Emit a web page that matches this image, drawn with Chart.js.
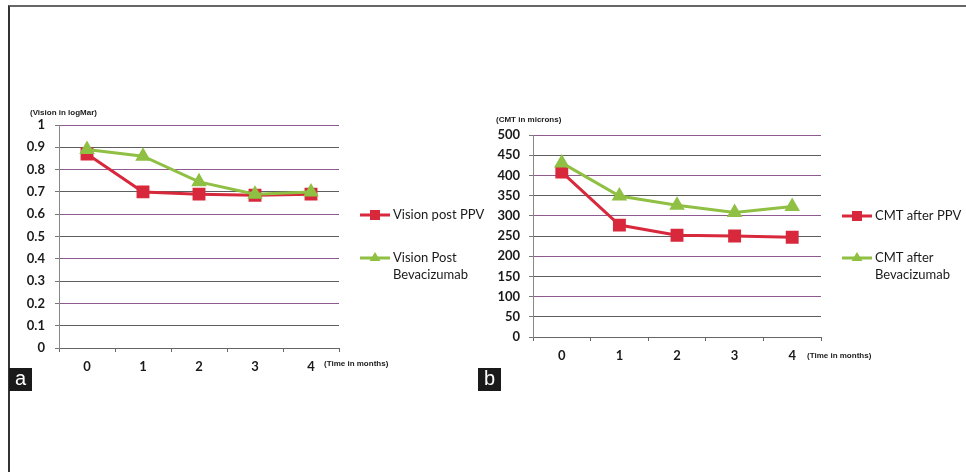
<!DOCTYPE html>
<html>
<head>
<meta charset="utf-8">
<script src="https://cdn.jsdelivr.net/npm/chart.js@4/dist/chart.umd.min.js"></script>
<style>
  body { margin: 0; background: #fff; width: 966px; height: 472px; overflow: hidden; position: relative; }
  .frame { position: absolute; left: 8px; top: 5px; width: 960px; height: 480px; border-top: 2px solid #666; border-left: 2px solid #333; }
  .panel { position: absolute; top: 100px; }
  .tag { position: absolute; top: 368px; width: 23px; height: 23px; background: #1a1a1a; color: #fff;
         font: 20px "Liberation Sans", Arial, sans-serif; line-height: 21px; text-align: center; }
</style>
</head>
<body>
<div class="frame"></div>
<canvas id="chartA" class="panel" style="left:10px" width="480" height="280"></canvas>
<canvas id="chartB" class="panel" style="left:480px" width="486" height="280"></canvas>
<div class="tag" style="left:9px">a</div>
<div class="tag" style="left:478px">b</div>
<script>
const months = ["0", "1", "2", "3", "4"];
const visionTickLabels = ["0", "0.1", "0.2", "0.3", "0.4", "0.5", "0.6", "0.7", "0.8", "0.9", "1"];
const cmtTickLabels = ["0", "50", "100", "150", "200", "250", "300", "350", "400", "450", "500"];

const visionPostPPV = [0.87, 0.70, 0.69, 0.685, 0.69];
const visionPostBeva = [0.89, 0.86, 0.745, 0.69, 0.70];
const cmtAfterPPV = [408, 277, 252, 250, 247];
const cmtAfterBeva = [431, 349, 326, 308, 323];

const RED = "#d8283c";
const GREEN = "#8fc043";

Chart.defaults.font.family = "Lato";
Chart.defaults.color = "#1a1a1a";

// legend and axis captions drawn beside the plot
const sideText = {
  id: "sideText",
  afterDraw(chart, args, opts) {
    const c = chart.ctx;
    const a = chart.chartArea;
    c.save();
    c.fillStyle = "#1a1a1a";
    c.font = "bold 8px 'Liberation Sans'";
    c.textBaseline = "middle";
    c.fillText(opts.yTitle, a.left + opts.yTitleDx, a.top + opts.yTitleDy);
    c.fillText("(Time in months)", a.right + opts.xTitleDx, a.bottom + opts.xTitleDy);

    chart.data.datasets.forEach((ds, i) => {
      const y = opts.legendY[i];
      const x0 = a.right + 21, x1 = a.right + 51;
      c.strokeStyle = ds.borderColor;
      c.lineWidth = 3;
      c.beginPath();
      c.moveTo(x0, y);
      c.lineTo(x1, y);
      c.stroke();
      c.fillStyle = ds.borderColor;
      const mx = (x0 + x1) / 2;
      if (ds.pointStyle === "rect") {
        c.fillRect(mx - 5, y - 5, 10, 10);
      } else {
        c.beginPath();
        c.moveTo(mx, y - 6);
        c.lineTo(mx + 5.5, y + 3);
        c.lineTo(mx - 5.5, y + 3);
        c.closePath();
        c.fill();
      }
      c.fillStyle = "#1a1a1a";
      c.font = "13px Lato";
      ds.label.split("\n").forEach((line, k) => {
        c.fillText(line, a.right + 54, y + k * 17);
      });
    });
    c.restore();
  }
};

function gridColor(ctx) {
  return ctx.index % 2 === 0 ? "#8e5a90" : "#5e5e5e";
}

function makeChart(id, series, labels, tickLabels, max, step, geo) {
  return new Chart(document.getElementById(id), {
    type: "line",
    data: {
      labels: months,
      datasets: [
        {
          label: labels[0], data: series[0], borderColor: RED, backgroundColor: RED,
          borderWidth: 3, pointStyle: "rect", pointRadius: 7, pointHoverRadius: 7, order: 2
        },
        {
          label: labels[1], data: series[1], borderColor: GREEN, backgroundColor: GREEN,
          borderWidth: 3, pointStyle: "triangle", pointRadius: 6, pointHoverRadius: 6, order: 1
        }
      ]
    },
    options: {
      responsive: false,
      animation: false,
      layout: { padding: { left: 0, top: geo.top, right: geo.right, bottom: 0 } },
      plugins: {
        legend: { display: false },
        tooltip: { enabled: false },
        sideText: geo.text
      },
      scales: {
        x: {
          offset: true,
          afterFit: (s) => { s.height = geo.bottom; },
          grid: { offset: true, drawOnChartArea: false, drawTicks: true, tickLength: 4, color: "#666" },
          border: { color: "#666" },
          ticks: { padding: 7, font: { size: 13, weight: "bold" }, maxRotation: 0 }
        },
        y: {
          min: 0, max: max,
          afterFit: (s) => { s.width = geo.left; },
          grid: { color: gridColor, tickLength: 4, tickColor: "#777" },
          border: { color: "#888" },
          ticks: {
            stepSize: step, padding: geo.tickPad,
            font: { size: 13, weight: "bold" },
            callback: (v, i) => tickLabels[i]
          }
        }
      }
    },
    plugins: [sideText]
  });
}

makeChart("chartA", [visionPostPPV, visionPostBeva],
  ["Vision post PPV", "Vision Post\nBevacizumab"], visionTickLabels, 1, 0.1,
  { left: 49, top: 25, right: 151, bottom: 32, tickPad: 10,
    text: { yTitle: "(Vision in logMar)", yTitleDx: -29, yTitleDy: -12, xTitleDx: -15, xTitleDy: 16, legendY: [115, 158] } });

makeChart("chartB", [cmtAfterPPV, cmtAfterBeva],
  ["CMT after PPV", "CMT after\nBevacizumab"], cmtTickLabels, 500, 50,
  { left: 53, top: 35, right: 145, bottom: 43, tickPad: 9,
    text: { yTitle: "(CMT in microns)", yTitleDx: -37, yTitleDy: -15, xTitleDx: -14, xTitleDy: 19, legendY: [116, 158] } });
</script>
</body>
</html>
